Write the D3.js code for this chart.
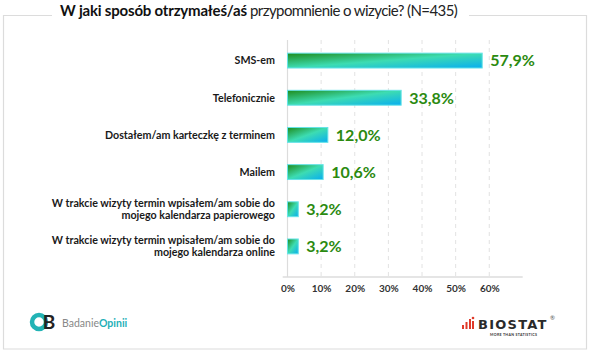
<!DOCTYPE html>
<html><head><meta charset="utf-8">
<script src="https://cdn.jsdelivr.net/npm/d3@7"></script>
<style>
html,body{margin:0;padding:0;background:#fff;}
svg{display:block;font-family:Lato,"Open Sans",sans-serif;}
</style></head>
<body><svg id="c" width="590" height="352"></svg>
<script>
const categories = [
  ["SMS-em"],
  ["Telefonicznie"],
  ["Dostałem/am karteczkę z terminem"],
  ["Mailem"],
  ["W trakcie wizyty termin wpisałem/am sobie do","mojego kalendarza papierowego"],
  ["W trakcie wizyty termin wpisałem/am sobie do","mojego kalendarza online"]
];
const values = [57.9, 33.8, 12.0, 10.6, 3.2, 3.2];
const valueLabels = ["57,9%","33,8%","12,0%","10,6%","3,2%","3,2%"];
const ticks = [0,10,20,30,40,50,60];
const titleBold = "W jaki sposób otrzymałeś/aś";
const titleRest = " przypomnienie o wizycie? (N=435)";

const svg = d3.select("#c");
const defs = svg.append("defs");
const g = defs.append("linearGradient").attr("id","bg").attr("x1",0).attr("y1",0).attr("x2",1).attr("y2",1);
g.append("stop").attr("offset","0%").attr("stop-color","#1e8c1c");
g.append("stop").attr("offset","50%").attr("stop-color","#3ddcb2");
g.append("stop").attr("offset","100%").attr("stop-color","#08aef0");

// frame
const frame = svg.append("g").attr("stroke","#dcdcdc").attr("stroke-width",1.2).attr("fill","none");
frame.append("path").attr("d","M52,15.5 H3.5 V349 H586.5 V15.5 H469");

// title
const title = svg.append("text").attr("x",60).attr("y",16).attr("text-anchor","start")
  .attr("font-size",15).attr("fill","#111");
title.append("tspan").attr("font-weight","bold").attr("textLength",187).attr("lengthAdjust","spacing").text(titleBold);
title.append("tspan").attr("font-weight","normal").attr("fill","#222").attr("textLength",211).attr("lengthAdjust","spacing").text(titleRest);

const x = d3.scaleLinear().domain([0,70]).range([287.5, 522.9]);
const y = d3.scaleBand().domain(d3.range(values.length)).range([42,265]).paddingInner(0.6).paddingOuter(0.3);

// gridlines
svg.append("g").selectAll("line").data(ticks.filter(t=>t>0)).join("line")
  .attr("x1",d=>x(d)).attr("x2",d=>x(d)).attr("y1",40).attr("y2",276)
  .attr("stroke","#e2e2e2").attr("stroke-dasharray","4,4").attr("stroke-width",1);
// vertical axis line
svg.append("line").attr("x1",x(0)).attr("x2",x(0)).attr("y1",40).attr("y2",277)
  .attr("stroke","#dcdcdc").attr("stroke-width",1.2);

// x axis
const xAxis = d3.axisBottom(x).tickValues(ticks).tickSize(0).tickPadding(8).tickFormat(d=>d+"%");
const ax = svg.append("g").attr("transform","translate(0,277)").call(xAxis);
ax.select(".domain").remove();
ax.append("line").attr("x1",282.7).attr("x2",522.7).attr("y1",0).attr("y2",0).attr("stroke","#dcdcdc").attr("stroke-width",1.6);
ax.selectAll("text").attr("font-family","Lato,sans-serif").attr("font-size",10).attr("font-weight","bold").attr("fill","#333");

// bars
svg.append("g").selectAll("rect").data(values).join("rect")
  .attr("x",x(0)).attr("y",(d,i)=>y(i)).attr("width",d=>x(d)-x(0)).attr("height",y.bandwidth())
  .attr("fill","url(#bg)").attr("stroke","#66e3e8").attr("stroke-width",1);

// value labels
svg.append("g").selectAll("text").data(values).join("text")
  .attr("x",d=>x(d)+8).attr("y",(d,i)=>y(i)+y.bandwidth()/2).attr("dy","0.36em")
  .attr("font-size",16).attr("font-weight","bold").attr("fill","#2b8a10")
  .text((d,i)=>valueLabels[i]);

// category labels
const cl = svg.append("g").selectAll("text").data(categories).join("text")
  .attr("x",275).attr("y",(d,i)=>y(i)+y.bandwidth()/2).attr("text-anchor","end")
  .attr("font-size",10.7).attr("font-weight","bold").attr("fill","#1a1a1a");
cl.each(function(lines){
  const t = d3.select(this);
  const n = lines.length;
  const lh = 1.12;
  lines.forEach((l,k)=>{
    t.append("tspan").attr("x",275).attr("dy", k===0 ? ((0.36 - (n-1)*lh/2)+"em") : lh+"em").text(l);
  });
});

// BadanieOpinii logo
const lg = svg.append("g");
lg.append("circle").attr("cx",39).attr("cy",322).attr("r",7).attr("fill","none").attr("stroke","#22b3b5").attr("stroke-width",4.5);
lg.append("text").attr("x",49).attr("y",328.5).attr("font-size",19).attr("font-weight","bold").attr("fill","#222").attr("text-anchor","middle").text("B");
lg.append("text").attr("x",62).attr("y",326.5).attr("font-size",10.5).attr("fill","#888").text("Badanie")
  .append("tspan").attr("fill","#1fb0b8").attr("font-weight","bold").text("Opinii");

// BIOSTAT logo
const bl = svg.append("g");
[[462,325,2],[465.5,322,2],[469,319,2]].forEach(([bx,by,w],i)=>{
  bl.append("rect").attr("x",bx).attr("y",by).attr("width",w).attr("height",329-by).attr("fill","#e03a2a");
});
bl.append("circle").attr("cx",473).attr("cy",318).attr("r",1.3).attr("fill","#e03a2a");
bl.append("rect").attr("x",472).attr("y",321).attr("width",2).attr("height",8).attr("fill","#e03a2a");
bl.append("text").attr("x",478).attr("y",329).attr("font-size",13).attr("font-weight","bold").attr("letter-spacing",1.6)
  .attr("font-family","DejaVu Sans,sans-serif").attr("fill","#2a2a2a").attr("textLength",70).text("BIOSTAT");
bl.append("text").attr("x",550).attr("y",320).attr("font-size",6).attr("fill","#555").text("®");
bl.append("text").attr("x",490).attr("y",335.5).attr("font-size",3.6).attr("font-weight","bold").attr("fill","#333").attr("textLength",47).text("MORE THAN STATISTICS");
</script></body></html>
